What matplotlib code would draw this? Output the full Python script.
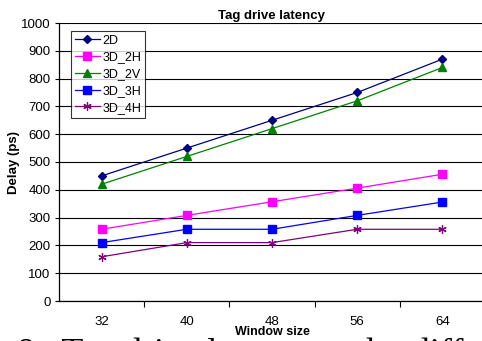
import matplotlib
matplotlib.use('Agg')
import matplotlib.pyplot as plt

window_sizes = ['32', '40', '48', '56', '64']
delay_2d = [450, 550, 650, 750, 870]
delay_3d_2h = [258, 308, 357, 406, 456]
delay_3d_2v = [420, 520, 620, 720, 840]
delay_3d_3h = [210, 258, 258, 308, 356]
delay_3d_4h = [159, 210, 210, 258, 258]

plt.rcParams['font.family'] = ['Liberation Sans', 'DejaVu Sans']

fig = plt.figure(figsize=(4.82, 3.41), dpi=100)
ax = fig.add_axes([59 / 482, 1 - 301 / 341, 426 / 482, 278 / 341])

x = list(range(len(window_sizes)))
ax.plot(x, delay_2d, color='#000080', marker='D', markersize=4, lw=0.9, label='2D')
ax.plot(x, delay_3d_2h, color='#FF00FF', marker='s', markersize=5.5, lw=0.9, label='3D_2H')
ax.plot(x, delay_3d_2v, color='#008000', marker='^', markersize=5.5, lw=0.9, label='3D_2V')
ax.plot(x, delay_3d_3h, color='#0000FF', marker='s', markersize=5.5, lw=0.9, label='3D_3H')
ax.plot(x, delay_3d_4h, color='#800080', marker=(6, 2, 0), markersize=6, lw=0.9,
        markeredgewidth=0.9, label='3D_4H')

ax.set_xlim(-0.5, len(window_sizes) - 0.5)
ax.set_ylim(0, 1000)
ax.set_yticks(range(0, 1001, 100))
ax.yaxis.grid(True, color='black', lw=0.8)
ax.set_axisbelow(True)

ax.set_xticks(x)
ax.set_xticklabels(window_sizes, fontsize=9.5)
ax.set_xticks([i + 0.5 for i in x[:-1]], minor=True)
ax.tick_params(axis='x', which='major', length=0, pad=11)
ax.tick_params(axis='x', which='minor', length=4, width=0.8, direction='out')
ax.tick_params(axis='y', length=3, width=0.8, labelsize=9.5, pad=3)

for s in ['top', 'right']:
    ax.spines[s].set_visible(False)
ax.spines['left'].set_linewidth(0.9)
ax.spines['bottom'].set_linewidth(0.9)

ax.set_title('Tag drive latency', fontsize=9.5, fontweight='bold', pad=3)
ax.set_ylabel('Delay (ps)', fontsize=9.5, fontweight='bold', labelpad=1)

leg = ax.legend(loc='upper left', bbox_to_anchor=(12 / 426, 1 - 8 / 278), fontsize=9,
                frameon=True, fancybox=False, edgecolor='black', borderpad=0.3,
                labelspacing=0.38, handlelength=2.0, handletextpad=0.2, borderaxespad=0)
leg.get_frame().set_linewidth(0.8)

# caption of the paper figure, cut off at the bottom of the image
fig.text(17 / 482, -22 / 341, '8.  Tag drive latency under different', fontsize=26,
         family='Liberation Serif', ha='left', va='baseline')
fig.text(272 / 482, 1 - 332 / 341, 'Window size', fontsize=9, fontweight='bold',
         ha='center', va='center')

fig.savefig('out.png', dpi=100)
